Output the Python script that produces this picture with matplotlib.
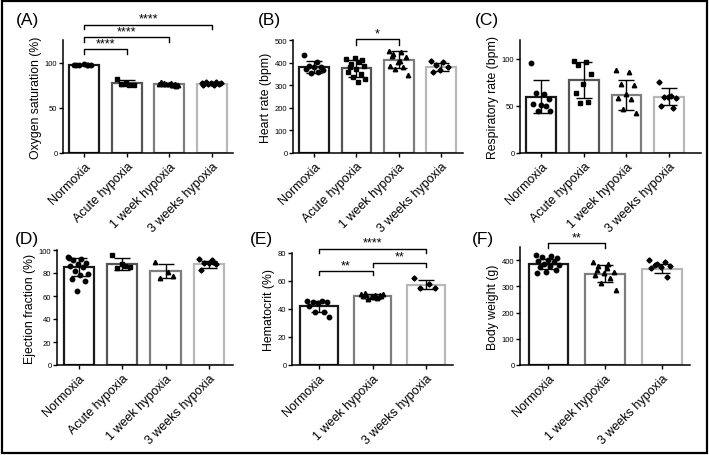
import numpy as np
import matplotlib.pyplot as plt
from matplotlib.patches import Rectangle

plt.rcParams['font.family'] = ['Liberation Sans', 'DejaVu Sans']

W, H = 709, 456

groups4 = ['Normoxia', 'Acute hypoxia', '1 week hypoxia', '3 weeks hypoxia']
groups3 = ['Normoxia', '1 week hypoxia', '3 weeks hypoxia']

# (A) Oxygen saturation
spo2_mean = [97.5, 77.2, 76.0, 76.5]
spo2_sd = [0.6, 3.0, 1.3, 1.4]
spo2_pts = [[97.2, 97.8, 97.5, 97.0, 98.0, 97.6, 97.3],
            [82.0, 75.0, 76.0, 75.5, 77.0],
            [76.5, 75.0, 77.5, 74.5, 76.0, 78.0, 75.5, 76.8, 74.8, 77.0, 75.8, 76.2],
            [77.0, 75.5, 78.5, 76.0, 77.5, 75.0, 79.0, 76.5, 77.8, 76.2]]

# (B) Heart rate
hr_mean = [381, 375, 412, 380]
hr_sd = [27, 37, 38, 19]
hr_pts = [[434, 404, 385, 382, 379, 372, 357, 354, 368],
          [416, 401, 394, 387, 372, 357, 350, 335, 328, 316, 379, 413, 420],
          [453, 446, 438, 424, 401, 387, 379, 372, 346, 409, 430],
          [406, 401, 390, 379, 369, 358]]

# (C) Respiratory rate
rr_mean = [60, 77.5, 62, 60]
rr_sd = [17, 19, 16, 9]
rr_pts = [[96, 63, 64, 57, 51, 52, 50, 45, 45],
          [98, 97, 93, 84, 73, 64, 54, 53],
          [88, 86, 73, 72, 63, 58, 57, 47, 43],
          [75, 61, 59, 58, 60, 50, 48]]

# (D) Ejection fraction
ef_mean = [85, 88, 81.5, 87.5]
ef_sd = [8, 5, 6, 3]
ef_pts = [[94, 92, 91, 89, 88, 86, 85, 82, 79, 78, 75, 73, 64, 93],
          [96, 86, 84, 85, 88],
          [90, 81, 76, 77],
          [92, 91, 89, 88, 89, 83, 90]]

# (E) Hematocrit
hct_mean = [42, 49, 57.5]
hct_sd = [4, 2, 3.2]
hct_pts = [[46, 46, 45, 45, 44, 42, 38, 38, 34],
           [51, 50, 50, 49.5, 49, 49, 48, 47, 50.5, 48.5, 51.5, 49.8],
           [62, 58, 55, 55]]

# (F) Body weight
bw_mean = [385, 348, 368]
bw_sd = [20, 33, 18]
bw_pts = [[420, 414, 410, 408, 401, 395, 391, 386, 382, 378, 373, 363, 353, 350],
          [392, 386, 376, 356, 350, 344, 331, 311, 286, 370, 362],
          [399, 391, 382, 376, 373, 369, 337, 385]]

edge4 = ['#1a1a1a', '#555555', '#7d7d7d', '#b8b8b8']
edge3 = ['#1a1a1a', '#7d7d7d', '#b8b8b8']
mark4 = ['o', 's', '^', 'D']
mark3 = ['o', '^', 'D']

fig = plt.figure(figsize=(W / 100, H / 100), dpi=100)


def make_axes(l, t, r, b):
    return fig.add_axes([l / W, 1 - b / H, (r - l) / W, (b - t) / H])


def draw_panel(ax, groups, means, sds, pts, edges, markers, ymax, yticks,
               ylabel, xmax, spread):
    x = np.arange(len(groups))
    ax.bar(x, means, width=0.7, color='white', edgecolor=edges,
           linewidth=1.6, zorder=1)
    for i, vals in enumerate(pts):
        n = len(vals)
        offs = ((np.arange(n) * 0.618) % 1 - 0.5) * 2 * spread
        msize = 3.2 if markers[i] != 'D' else 2.6
        ax.plot(x[i] + offs, vals, linestyle='none', marker=markers[i],
                color='black', markersize=msize, zorder=3, clip_on=False)
    ax.errorbar(x, means, yerr=sds, fmt='none', ecolor='black',
                elinewidth=1.0, capsize=5.5, capthick=1.0, zorder=4)
    ax.set_xlim(-0.5, xmax)
    ax.set_ylim(0, ymax)
    ax.set_yticks(yticks)
    ax.set_xticks(x)
    ax.set_xticklabels(groups, rotation=45, ha='right',
                       rotation_mode='anchor', fontsize=9)
    ax.set_ylabel(ylabel, fontsize=8.8, labelpad=2)
    ax.tick_params(axis='y', labelsize=5.5, length=3, width=1.0, pad=1)
    ax.tick_params(axis='x', length=3, width=1.0, pad=2)
    for s in ['top', 'right']:
        ax.spines[s].set_visible(False)
    for s in ['left', 'bottom']:
        ax.spines[s].set_linewidth(1.1)


def bracket(ax, i, j, y, drop, text):
    ax.plot([i, i, j, j], [y - drop, y, y, y - drop], color='black',
            linewidth=1.0, clip_on=False)
    ax.text((i + j) / 2, y, text, ha='center', va='bottom', fontsize=9)


axA = make_axes(63, 41, 233, 154)
draw_panel(axA, groups4, spo2_mean, spo2_sd, spo2_pts, edge4, mark4,
           125, [0, 50, 100], 'Oxygen saturation (%)', 3.5, 0.24)
bracket(axA, 0, 1, 114.5, 5, '****')
bracket(axA, 0, 2, 128, 5, '****')
bracket(axA, 0, 3, 142, 5, '****')

axB = make_axes(293, 41, 463, 154)
draw_panel(axB, groups4, hr_mean, hr_sd, hr_pts, edge4, mark4,
           500, [0, 100, 200, 300, 400, 500], 'Heart rate (bpm)', 3.52, 0.24)
bracket(axB, 1, 2, 504, 24, '*')

axC = make_axes(520, 41, 701, 154)
draw_panel(axC, groups4, rr_mean, rr_sd, rr_pts, edge4, mark4,
           120, [0, 50, 100], 'Respiratory rate (bpm)', 3.75, 0.24)

axD = make_axes(57, 251, 233, 366)
draw_panel(axD, groups4, ef_mean, ef_sd, ef_pts, edge4, mark4,
           100, [0, 20, 40, 60, 80, 100], 'Ejection fraction (%)', 3.55, 0.24)

axE = make_axes(292, 254, 453, 366)
draw_panel(axE, groups3, hct_mean, hct_sd, hct_pts, edge3, mark3,
           80, [0, 20, 40, 60, 80], 'Hematocrit (%)', 2.5, 0.22)
bracket(axE, 0, 1, 67, 3, '**')
bracket(axE, 1, 2, 73, 3, '**')
bracket(axE, 0, 2, 83, 3, '****')

axF = make_axes(520, 248, 690, 366)
draw_panel(axF, groups3, bw_mean, bw_sd, bw_pts, edge3, mark3,
           450, [0, 100, 200, 300, 400], 'Body weight (g)', 2.5, 0.22)
bracket(axF, 0, 1, 465, 18, '**')

for lab, px, py in [('(A)', 16, 21), ('(B)', 258, 21), ('(C)', 475, 21),
                    ('(D)', 15, 240), ('(E)', 250, 240), ('(F)', 472, 240)]:
    fig.text(px / W, 1 - py / H, lab, fontsize=12.5, ha='left', va='center')

fig.patches.append(Rectangle((0.003, 0.004), 0.994, 0.992, transform=fig.transFigure,
                             fill=False, edgecolor='black', linewidth=1.6))

fig.savefig('out.png', dpi=100)
